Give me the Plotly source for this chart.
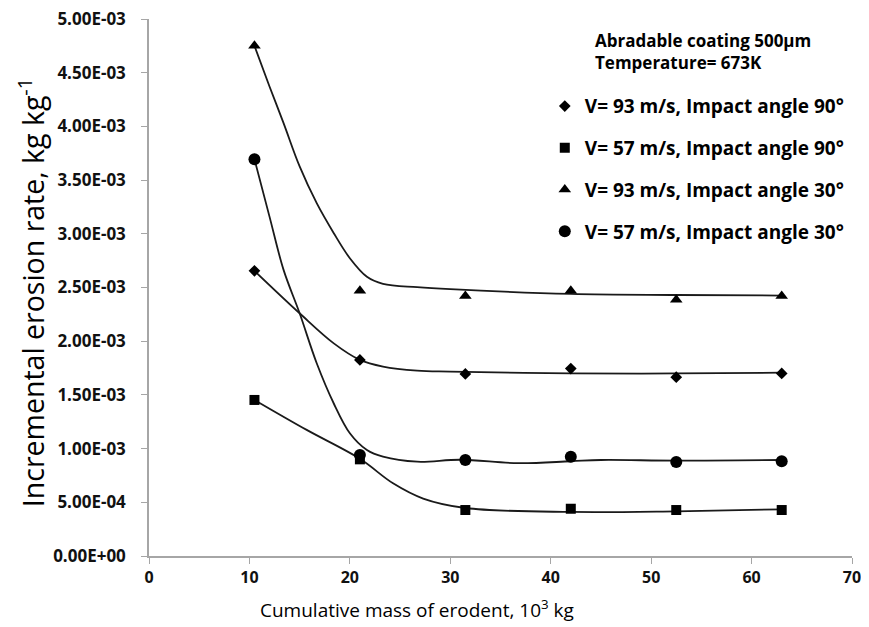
import plotly.graph_objects as go

# ---- data ----
mass = [10.5, 21.0, 31.5, 42.0, 52.5, 63.0]  # 10^3 kg
rate_93_90 = [2.655e-3, 1.826e-3, 1.695e-3, 1.745e-3, 1.665e-3, 1.700e-3]
rate_57_90 = [1.453e-3, 0.900e-3, 0.428e-3, 0.440e-3, 0.428e-3, 0.428e-3]
rate_93_30 = [4.750e-3, 2.470e-3, 2.420e-3, 2.470e-3, 2.385e-3, 2.420e-3]
rate_57_30 = [3.695e-3, 0.940e-3, 0.894e-3, 0.925e-3, 0.876e-3, 0.882e-3]

# smooth trend curves
fit_93_90_x = [10.5, 15.0, 18.4, 21.0, 23.3, 26.7, 30.0, 42.0, 52.5, 63.0]
fit_93_90_y = [2.655e-3, 2.260e-3, 1.980e-3, 1.826e-3, 1.764e-3, 1.726e-3, 1.717e-3, 1.700e-3, 1.700e-3, 1.707e-3]
fit_57_90_x = [10.5, 15.7, 21.0, 24.3, 27.3, 31.5, 42.0, 52.5, 63.0]
fit_57_90_y = [1.453e-3, 1.174e-3, 0.905e-3, 0.677e-3, 0.535e-3, 0.447e-3, 0.410e-3, 0.416e-3, 0.435e-3]
fit_93_30_x = [10.5, 12.0, 13.4, 15.0, 16.7, 18.4, 20.0, 21.7, 23.3, 26.7, 30.0, 42.0, 52.5, 63.0]
fit_93_30_y = [4.750e-3, 4.372e-3, 4.030e-3, 3.627e-3, 3.285e-3, 3.006e-3, 2.773e-3, 2.600e-3, 2.534e-3,
               2.503e-3, 2.484e-3, 2.440e-3, 2.430e-3, 2.425e-3]
fit_57_30_x = [10.5, 12.0, 13.4, 15.0, 16.7, 18.4, 20.0, 21.7, 23.3, 26.7, 31.0, 36.8, 42.0, 45.0, 52.5, 63.0]
fit_57_30_y = [3.695e-3, 3.160e-3, 2.664e-3, 2.260e-3, 1.795e-3, 1.420e-3, 1.143e-3, 0.987e-3, 0.925e-3,
               0.878e-3, 0.896e-3, 0.864e-3, 0.882e-3, 0.894e-3, 0.888e-3, 0.894e-3]

series_names = ["V= 93 m/s, Impact angle 90°", "V= 57 m/s, Impact angle 90°",
                "V= 93 m/s, Impact angle 30°", "V= 57 m/s, Impact angle 30°"]

y_tickvals = [0, 0.5e-3, 1.0e-3, 1.5e-3, 2.0e-3, 2.5e-3, 3.0e-3, 3.5e-3, 4.0e-3, 4.5e-3, 5.0e-3]
y_ticktext = ["0.00E+00", "5.00E-04", "1.00E-03", "1.50E-03", "2.00E-03", "2.50E-03",
              "3.00E-03", "3.50E-03", "4.00E-03", "4.50E-03", "5.00E-03"]
x_tickvals = [0, 10, 20, 30, 40, 50, 60, 70]

FONT = "Open Sans"

fig = go.Figure()

fits = [(fit_93_90_x, fit_93_90_y), (fit_57_90_x, fit_57_90_y),
        (fit_93_30_x, fit_93_30_y), (fit_57_30_x, fit_57_30_y)]
for fx, fy in fits:
    fig.add_trace(go.Scatter(x=fx, y=fy, mode="lines",
                             line=dict(color="#1a1a1a", width=1.8, shape="spline", smoothing=1.0),
                             showlegend=False, hoverinfo="skip"))

series = [rate_93_90, rate_57_90, rate_93_30, rate_57_30]
symbols = ["diamond", "square", "triangle-up", "circle"]
sizes = [9, 10, 11, 12]
for i, (vals, sym, sz, nm) in enumerate(zip(series, symbols, sizes, series_names)):
    fig.add_trace(go.Scatter(x=mass, y=vals, mode="markers", name=nm, legendgroup=f"g{i}",
                             marker=dict(symbol=sym, size=sz, color="black")))

# The page body has an 8px default margin, so the figure is 8px smaller
fig.update_layout(
    width=861, height=619,
    margin=dict(l=141, r=17, t=11, b=71, autoexpand=False),
    paper_bgcolor="white", plot_bgcolor="white",
    font=dict(family=FONT, color="black"),
    showlegend=True,
    legend=dict(x=0.563, y=0.873, xanchor="left", yanchor="top", tracegroupgap=14,
                font=dict(family=FONT, size=19, color="black", weight="bold"),
                bgcolor="rgba(0,0,0,0)", itemwidth=30),
    xaxis=dict(range=[0, 70], tickvals=x_tickvals, showgrid=False, zeroline=False,
               showline=True, linecolor="#a6a6a6", linewidth=1.5, automargin=False,
               ticks="outside", ticklen=6, tickcolor="#a6a6a6", tickwidth=1.2,
               tickfont=dict(family=FONT, size=16, color="#111", weight="bold")),
    yaxis=dict(range=[0, 5.0e-3], tickvals=y_tickvals, ticktext=y_ticktext, showgrid=False, zeroline=False,
               showline=True, linecolor="#a6a6a6", linewidth=1.5, automargin=False,
               ticks="outside", ticklen=6, tickcolor="#a6a6a6", tickwidth=1.2,
               ticklabelstandoff=12, ticklabeloverflow="allow",
               tickfont=dict(family=FONT, size=17, color="#111", weight="bold")),
    annotations=[
        dict(text="Incremental erosion rate, kg kg<sup>-1</sup>", xref="paper", yref="paper",
             x=-0.166, y=0.49, xanchor="center", yanchor="middle", textangle=-90, showarrow=False,
             font=dict(family=FONT, size=28.5, color="black")),
        dict(text="Cumulative mass of erodent, 10<sup>3</sup> kg", xref="paper", yref="paper",
             x=0.381, y=-0.099, xanchor="center", yanchor="middle", showarrow=False,
             font=dict(family=FONT, size=19, color="black")),
        dict(text="Abradable coating 500µm<br>Temperature= 673K", xref="paper", yref="paper",
             x=0.6316, y=0.9395, xanchor="left", yanchor="middle", align="left", showarrow=False,
             font=dict(family=FONT, size=17, color="black", weight="bold")),
    ],
)

fig.write_html("out.html")
